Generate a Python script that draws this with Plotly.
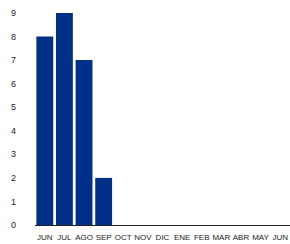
import plotly.graph_objects as go

months = ["JUN", "JUL", "AGO", "SEP", "OCT", "NOV", "DIC", "ENE", "FEB", "MAR", "ABR", "MAY", "JUN"]
values = [8, 9, 7, 2, 0, 0, 0, 0, 0, 0, 0, 0, 0]
positions = list(range(len(months)))

fig = go.Figure(go.Bar(x=positions, y=values, marker=dict(color="#003087", line=dict(width=0)),
                       width=0.86))
fig.update_layout(
    width=290, height=244,
    margin=dict(l=35, r=0, t=13, b=19, autoexpand=False),
    paper_bgcolor="white", plot_bgcolor="white",
    showlegend=False,
    font=dict(family="Liberation Sans, Arial", size=8, color="#222222"),
)
fig.update_xaxes(tickmode="array", tickvals=positions, ticktext=months,
                 range=[-0.5, len(months) - 0.5], showgrid=False, zeroline=False,
                 showline=True, linecolor="#222222", linewidth=1, ticks="", ticklen=0,
                 tickangle=0, tickfont=dict(size=8), automargin=False, ticklabelstandoff=4)
fig.update_yaxes(range=[0, 9], tickvals=list(range(10)), showgrid=False, zeroline=False,
                 showline=False, ticks="", ticklabelstandoff=18, tickfont=dict(size=9),
                 automargin=False)
fig.write_html("out.html", config={"staticPlot": True, "displayModeBar": False},
               post_script="document.body.style.margin='0';document.body.style.overflow='hidden';")
